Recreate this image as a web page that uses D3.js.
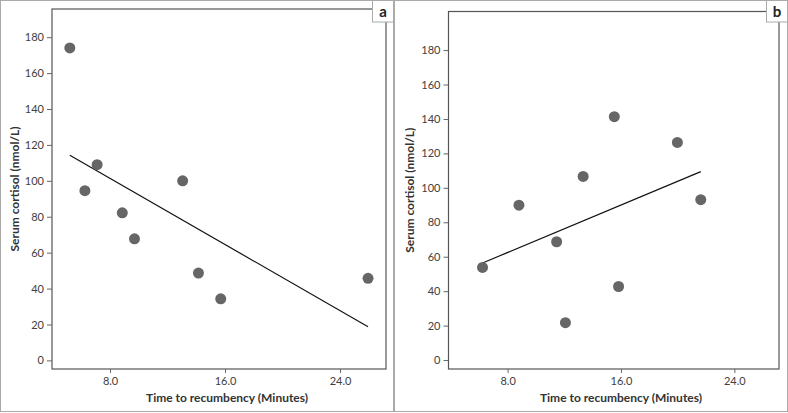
<!DOCTYPE html>
<html><head><meta charset="utf-8">
<script src="https://cdn.jsdelivr.net/npm/d3@7"></script>
<style>body{margin:0;background:#fff}svg{display:block}text{font-family:Lato,"Open Sans",sans-serif}</style>
</head><body><svg id="c" width="788" height="413"></svg>
<script>
// Panel a data
const timeA = [5.2, 6.25, 7.1, 8.85, 9.7, 13.05, 14.15, 15.7, 25.95];
const cortisolA = [174, 94.5, 109, 82.2, 67.7, 100, 48.6, 34.3, 45.7];
// Panel b data
const timeB = [6.23, 8.8, 11.46, 12.08, 13.33, 15.53, 15.83, 19.98, 21.63];
const cortisolB = [53.8, 89.9, 68.7, 21.7, 106.6, 141.3, 42.7, 126.4, 93.1];
const yTicks = [0, 20, 40, 60, 80, 100, 120, 140, 160, 180];
const xTicks = [8, 16, 24];
const panelLabels = ["a", "b"];
const xTitle = "Time to recumbency (Minutes)";
const yTitle = "Serum cortisol (nmol/L)";

const svg = d3.select("#c");
const panels = [
  {ox:0, x:timeA, y:cortisolA, l:52, t:9, r:386, b:369, xd:[3.96,27.2], yd:[-4.8,195.7], lab:panelLabels[0], ytx:15},
  {ox:394, x:timeB, y:cortisolB, l:448.5, t:11.5, r:779, b:369, xd:[3.83,27.15], yd:[-5.2,202.4], lab:panelLabels[1], ytx:410}
];

panels.forEach(p => {
  // panel frame
  svg.append("rect").attr("x", p.ox+0.5).attr("y", 0.5).attr("width", 393).attr("height", 411)
    .attr("fill","none").attr("stroke","#aaa").attr("stroke-width",1);
  const x = d3.scaleLinear().domain(p.xd).range([p.l, p.r]);
  const y = d3.scaleLinear().domain(p.yd).range([p.b, p.t]);
  const g = svg.append("g");
  // plot box
  g.append("rect").attr("x", p.l).attr("y", p.t).attr("width", p.r-p.l).attr("height", p.b-p.t)
    .attr("fill","none").attr("stroke","#555").attr("stroke-width",1.2);
  const ya = g.append("g").attr("transform",`translate(${p.l},0)`)
    .call(d3.axisLeft(y).tickValues(yTicks).tickSize(5).tickPadding(3).tickFormat(d3.format("d")));
  const xa = g.append("g").attr("transform",`translate(0,${p.b})`)
    .call(d3.axisBottom(x).tickValues(xTicks).tickSize(4).tickPadding(4).tickFormat(d3.format(".1f")));
  [ya, xa].forEach(a => {
    a.select(".domain").remove();
    a.selectAll("line").attr("stroke","#666");
    a.selectAll("text").attr("fill","#404040").style("font-size","11px");
  });
  // axis titles
  g.append("text").attr("x", (x(8)+x(24))/2 + (p.ox?0:2)).attr("y", 402).attr("text-anchor","middle")
    .style("font-size","12px").style("font-weight","bold").attr("fill","#333").text(xTitle);
  g.append("text").attr("transform",`translate(${p.ytx+4},${(p.t+p.b)/2}) rotate(-90)`).attr("text-anchor","middle")
    .style("font-size","12px").style("font-weight","bold").attr("fill","#333").text(yTitle);
  // OLS regression line
  const mx = d3.mean(p.x), my = d3.mean(p.y);
  const sxy = d3.sum(p.x, (v,i) => (v-mx)*(p.y[i]-my));
  const sxx = d3.sum(p.x, v => (v-mx)*(v-mx));
  const slope = sxy/sxx, icpt = my - slope*mx;
  const [x0, x1] = d3.extent(p.x);
  g.append("line").attr("x1", x(x0)).attr("y1", y(icpt+slope*x0)).attr("x2", x(x1)).attr("y2", y(icpt+slope*x1))
    .attr("stroke","#111").attr("stroke-width",1.2);
  // points
  g.selectAll("circle.pt").data(p.x).enter().append("circle").attr("class","pt")
    .attr("cx", d => x(d)).attr("cy", (d,i) => y(p.y[i])).attr("r", 5.5).attr("fill","#666");
  // label box
  const bx = p.ox + 394 - 21.5;
  svg.append("rect").attr("x", bx).attr("y", 0.5).attr("width", 21).attr("height", 21.5)
    .attr("fill","#fff").attr("stroke","#aaa");
  svg.append("text").attr("x", bx+10.5).attr("y", 16.5).attr("text-anchor","middle")
    .style("font-size","15px").style("font-weight","bold").attr("fill","#222").text(p.lab);
});
</script></body></html>
